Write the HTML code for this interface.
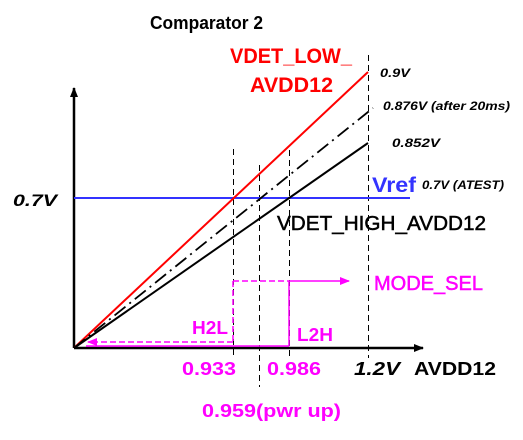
<!DOCTYPE html>
<html><head><meta charset="utf-8"><style>
html,body{margin:0;padding:0;background:#fff;}
svg{display:block;font-family:"Liberation Sans",sans-serif;}
</style></head><body>
<svg id="chart" width="523" height="440" viewBox="0 0 523 440" xmlns="http://www.w3.org/2000/svg">
<defs>
<marker id="ah" markerWidth="10" markerHeight="10" refX="9" refY="5" orient="auto" markerUnits="userSpaceOnUse"><path d="M0,1 L10,5 L0,9 Z" fill="#000"/></marker>
<marker id="ahm" markerWidth="10" markerHeight="10" refX="9" refY="5" orient="auto" markerUnits="userSpaceOnUse"><path d="M0,1 L10,5 L0,9 Z" fill="#f0f"/></marker>
</defs>
<text x="150" y="29" font-size="18" font-weight="bold" textLength="113" lengthAdjust="spacingAndGlyphs">Comparator 2</text>
<g id="axes"></g>
<g id="marks"></g>
<g id="labels"></g>
</svg>
<script>
// schematic data (volts)
const thresholds = [0.933, 0.959, 0.986, 1.2];
const thresholdLabels = ["0.933", "0.959(pwr up)", "0.986", "1.2V"];
const seriesNames = ["VDET_LOW_AVDD12", "after 20ms", "VDET_HIGH_AVDD12"];
const seriesEndX = [1.2, 1.21, 1.2];
const seriesEndY = [0.9, 0.876, 0.852];
const seriesEndLabels = ["0.9V", "0.876V (after 20ms)", "0.852V"];
const vref = [0.7];
const vrefLabels = ["0.7V"];

// schematic (non-linear) axis functions: piecewise-linear knots
const xKnotV = [0, 0.933, 0.959, 0.986, 1.2, 1.21, 1.4, 1.45];
const xKnotP = [74, 233, 259, 289, 368, 373, 410, 423];
const yKnotV = [0, 0.7, 0.852, 0.876, 0.9];
const yKnotP = [348, 198, 143, 108, 72];
function interp(v, kv, kp){
  for(let i=0;i<kv.length-1;i++){
    if(v<=kv[i+1]||i===kv.length-2){
      const t=(v-kv[i])/(kv[i+1]-kv[i]);return kp[i]+t*(kp[i+1]-kp[i]);
    }
  }
}
const x = v => interp(v, xKnotV, xKnotP);
const y = v => interp(v, yKnotV, yKnotP);
const NS="http://www.w3.org/2000/svg";
function mk(parent, tag, attrs){const e=document.createElementNS(NS,tag);for(const k in attrs)e.setAttribute(k,attrs[k]);parent.appendChild(e);return e;}
const axes=document.getElementById('axes'), marks=document.getElementById('marks'), labels=document.getElementById('labels');

let e;
e=mk(axes,'line',{x1:x(0),y1:y(0),x2:x(0),y2:88,stroke:'#000','stroke-width':2.5,'marker-end':'url(#ah)'});


e=mk(axes,'line',{x1:x(0),y1:y(0),x2:x(1.45),y2:y(0),stroke:'#000','stroke-width':2.5,'marker-end':'url(#ah)'});



// threshold dashed verticals
const vTop=[149,165,150,55], vBot=[358,387,358,358];
thresholds.forEach((t,i)=>{
  const l=mk(marks,'line',{x1:x(t)+0.5,x2:x(t)+0.5,y1:vTop[i],y2:vBot[i],stroke:'#000','stroke-width':1,'stroke-dasharray':'6,4','shape-rendering':'crispEdges'});
  
  
});

// vref
e=mk(marks,'line',{x1:x(0),x2:x(1.4),y1:y(vref[0]),y2:y(vref[0]),stroke:'#3333ff','stroke-width':2});



// series
const colors=['#ff0000','#000','#000'], dashes=['none','14,5,2,5','none'], widths=[2,1.8,2];
seriesEndY.forEach((v,i)=>{
  const l=mk(marks,'line',{x1:x(0),y1:y(0),x2:x(seriesEndX[i]),y2:y(v),stroke:colors[i],'stroke-width':widths[i],'stroke-dasharray':dashes[i]});
  
  
});

// mode_sel hysteresis (magenta)
const m='#ff00ff';
e=mk(marks,'line',{x1:x(0.933),x2:x(0.986),y1:281,y2:281,stroke:m,'stroke-width':1.5,'stroke-dasharray':'6,3'});


e=mk(marks,'line',{x1:x(0.986),x2:349,y1:281,y2:281,stroke:m,'stroke-width':1.5,'marker-end':'url(#ahm)'});


e=mk(marks,'line',{x1:x(0.933),x2:x(0.933),y1:281,y2:342,stroke:m,'stroke-width':1.5,'stroke-dasharray':'6,3'});


e=mk(marks,'line',{x1:x(0.986),x2:x(0.986),y1:281,y2:346,stroke:m,'stroke-width':1.5});


e=mk(marks,'line',{x1:86,x2:x(0.986),y1:346,y2:346,stroke:m,'stroke-width':1.5});


e=mk(marks,'line',{x1:x(0.933),x2:88,y1:342,y2:342,stroke:m,'stroke-width':1.5,'stroke-dasharray':'6,3','marker-end':'url(#ahm)'});



function txt(parent,s,xx,yy,opts,name){
  const t=mk(parent,'text',Object.assign({x:xx,y:yy},opts));t.textContent=s;
  
  
  return t;
}
const endLblX=[380,383,392], endLblY=[77,110,147], endLblW=[30,127,48];
seriesEndLabels.forEach((s,i)=>{
  txt(labels,s,endLblX[i],endLblY[i],{'font-size':12,'font-weight':'bold','font-style':'italic',textLength:endLblW[i],lengthAdjust:'spacingAndGlyphs'},'series-end-label');
});
txt(labels,'VDET_LOW_',230,63,{'font-size':21,'font-weight':'bold',fill:'#ff0000',textLength:122,lengthAdjust:'spacingAndGlyphs'},'vdet-low-label-1');
txt(labels,'AVDD12',250,92,{'font-size':21,'font-weight':'bold',fill:'#ff0000',textLength:83,lengthAdjust:'spacingAndGlyphs'},'vdet-low-label-2');
txt(labels,'Vref',372,192,{'font-size':21,'font-weight':'bold',fill:'#3333ff',textLength:44,lengthAdjust:'spacingAndGlyphs'},'vref-label');
txt(labels,'0.7V (ATEST)',422,189,{'font-size':12,'font-weight':'bold','font-style':'italic',textLength:82,lengthAdjust:'spacingAndGlyphs'},'vref-value-label');
txt(labels,vrefLabels[0],13,206,{'font-size':17,'font-weight':'bold','font-style':'italic',textLength:44,lengthAdjust:'spacingAndGlyphs'},'y-tick-0.7v');
txt(labels,'VDET_HIGH_AVDD12',277,230,{'font-size':20,fill:'#000',textLength:209,lengthAdjust:'spacingAndGlyphs','stroke':'#000','stroke-width':0.5},'vdet-high-label');
txt(labels,'MODE_SEL',374,290,{'font-size':20,fill:m,textLength:109,lengthAdjust:'spacingAndGlyphs','stroke':m,'stroke-width':0.5},'mode-sel-label');
txt(labels,'H2L',192,334,{'font-size':18,'font-weight':'bold',fill:m,textLength:36,lengthAdjust:'spacingAndGlyphs'},'h2l-label');
txt(labels,'L2H',297,341,{'font-size':18,'font-weight':'bold',fill:m,textLength:36,lengthAdjust:'spacingAndGlyphs'},'l2h-label');
const tlX=[182,202,267,354], tlY=[375,417,375,375], tlW=[54,139,54,46];
thresholdLabels.forEach((s,i)=>{
  const last=i===3;
  txt(labels,s,tlX[i],tlY[i],{'font-size':18,'font-weight':'bold','font-style':last?'italic':'normal',fill:last?'#000':m,textLength:tlW[i],lengthAdjust:'spacingAndGlyphs'},'x-tick-label');
});
txt(labels,'AVDD12',414,375,{'font-size':18,'font-weight':'bold',textLength:82,lengthAdjust:'spacingAndGlyphs'},'x-axis-title');
</script>
</body></html>
